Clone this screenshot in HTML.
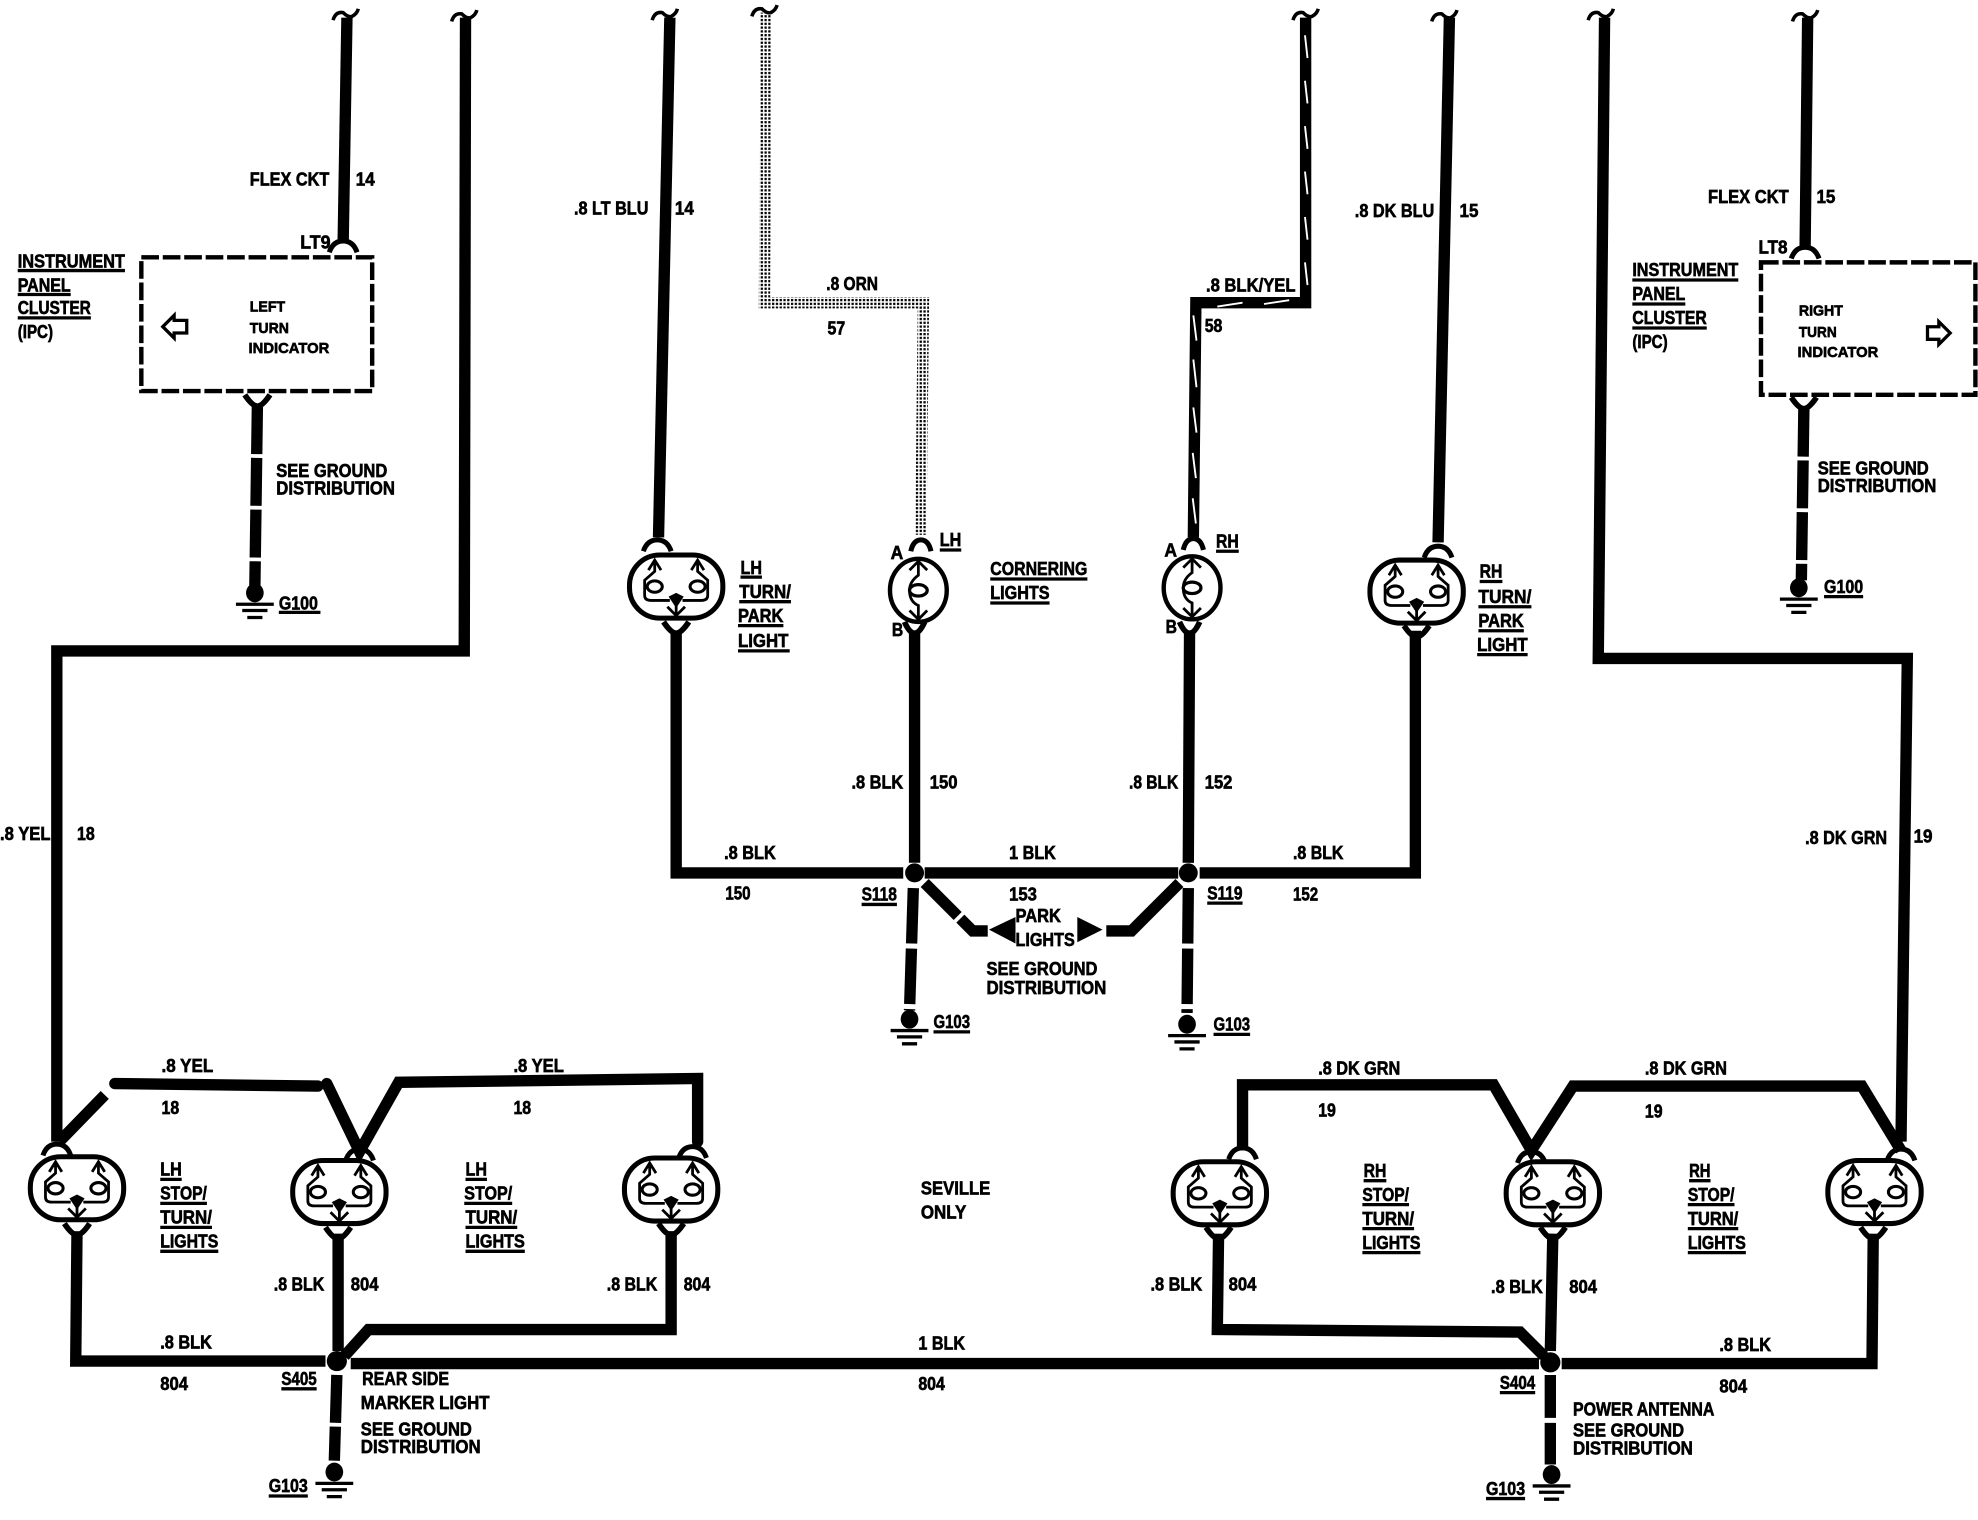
<!DOCTYPE html>
<html><head><meta charset="utf-8"><style>
html,body{margin:0;padding:0;background:#fff;width:1978px;height:1520px;overflow:hidden}
svg{display:block}
text{font-family:"Liberation Sans",sans-serif;font-weight:bold;font-size:14.5px;fill:#000;stroke:#000;stroke-width:.5}
.s text{font-size:12px}
.w{fill:none;stroke:#000;stroke-width:9;stroke-linejoin:miter}
.u{stroke:#000;stroke-width:2.6;fill:none}
</style></head><body>
<svg width="1978" height="1520" viewBox="0 0 1568 1205" xmlns="http://www.w3.org/2000/svg">
<defs>
<pattern id="gr" width="3" height="3" patternUnits="userSpaceOnUse"><rect width="3" height="3" fill="#fff"/><rect width="1.8" height="1.8" fill="#000"/></pattern>
<g id="L"><rect x="-37" y="-25" width="74" height="50" rx="24" ry="24" fill="#fff" stroke="#000" stroke-width="4"/>
<path d="M-17,-21V-12L-25,-5V7Q-25,11-20,11H-5M17,-21V-12L25,-5V7Q25,11 20,11H5M-22,-13L-17,-21L-12,-13M22,-13L17,-21L12,-13M-7,16L0,23L7,16M0,12V23" fill="none" stroke="#000" stroke-width="2.2"/>
<ellipse cx="-17" cy="0" rx="6" ry="4.500" fill="#fff" stroke="#000" stroke-width="2.4"/><ellipse cx="17" cy="0" rx="6" ry="4.500" fill="#fff" stroke="#000" stroke-width="2.4"/><path d="M-6,8L0,5L6,8L0,17Z"/></g>
<g id="C"><ellipse rx="22.500" ry="25" fill="#fff" stroke="#000" stroke-width="3.500"/>
<path d="M0,-23V-12Q-7,-7-7,0Q-7,9 0,12V23M-7,-16L0,-23L7,-16M-7,16L0,23L7,16" fill="none" stroke="#000" stroke-width="2.200"/><ellipse cx="0" cy="0" rx="7" ry="4.500" fill="#fff" stroke="#000" stroke-width="2.600"/></g>
<path id="T" d="M-11,6Q-8,-3 0,-3Q8,-3 11,6" fill="none" stroke="#000" stroke-width="4"/>
<path id="B" d="M-10,-6Q-4,3 0,3Q4,3 10,-6" fill="none" stroke="#000" stroke-width="4.500"/>
<path id="T2" d="M-8,6Q-6,-3 0,-3Q6,-3 8,6" fill="none" stroke="#000" stroke-width="4"/>
<path id="B2" d="M-8,-6Q-4,3 0,3Q4,3 8,-6" fill="none" stroke="#000" stroke-width="4.500"/>
<g id="G"><ellipse rx="7" ry="7.500"/><path d="M-15,9H15M-10,14H10M-6,19.500H6" stroke="#000" stroke-width="2.600" fill="none"/></g>
<path id="Q" d="M-11,4Q-9,-3-3,-2Q1,2 4,1Q8,-1 9,-5" fill="none" stroke="#000" stroke-width="2.800"/>
</defs>

<!-- top wires -->
<path class="w" d="M275,14L272,192"/>
<path class="w" d="M369,14L368,516H45V905"/>
<path class="w" d="M531,14L522,426"/>
<path d="M607,10L606,240H732L730,424" fill="none" stroke="url(#gr)" stroke-width="9"/>
<path class="w" d="M1035,14V240H948L946,426"/>
<path d="M1034.500,28L1036.500,46M1034.500,64L1036.500,82M1034.500,100L1036.500,118M1034.500,136L1036.500,154M1034.500,172L1036.500,190M1034.500,208L1036.500,226M965,243L985,240M1002,241L1022,238M946,250L948.500,270M946,285L948.500,307M946,323L948.500,343M945.500,359L948,379M945.500,395L948,415" fill="none" stroke="#fff" stroke-width="1.500"/>
<path class="w" d="M1149,14L1140,430"/>
<path class="w" d="M1272,14L1267,522H1512L1507,905"/>
<path class="w" d="M1433,14L1431,195"/>
<use href="#Q" x="275" y="12"/><use href="#Q" x="369" y="13"/><use href="#Q" x="528" y="12"/><use href="#Q" x="607" y="9"/><use href="#Q" x="1036" y="12"/><use href="#Q" x="1146" y="13"/><use href="#Q" x="1270" y="12"/><use href="#Q" x="1432" y="13"/>

<!-- IPC boxes -->
<rect x="112" y="204" width="183" height="106" fill="none" stroke="#000" stroke-width="3.500" stroke-dasharray="14 3"/>
<rect x="1396" y="208" width="170" height="105" fill="none" stroke="#000" stroke-width="3.500" stroke-dasharray="14 3"/>
<path d="M129,259L138,250V254H148V264H138V268Z" fill="none" stroke="#000" stroke-width="2.600"/>
<path d="M1546,264L1537,255V259H1528V269H1537V273Z" fill="none" stroke="#000" stroke-width="2.600"/>
<use href="#T" x="272" y="194"/>
<use href="#T" x="1431" y="199"/>
<use href="#B" x="204" y="319"/>
<use href="#B" x="1430" y="321"/>
<path class="w" stroke-dasharray="38 3" d="M204,322L202,465"/>
<path class="w" stroke-dasharray="38 3" d="M1430,324L1428,460"/>
<use href="#G" x="202" y="470"/>
<use href="#G" x="1426" y="466"/>

<!-- upper lamps -->
<use href="#L" x="536" y="465"/><use href="#L" x="1123" y="469"/>
<use href="#C" x="728" y="468"/><use href="#C" x="945" y="466"/>
<use href="#T" x="521" y="431"/><use href="#T2" x="730" y="431"/><use href="#T2" x="946" y="430"/><use href="#T" x="1140" y="436"/>
<use href="#B" x="536" y="499"/><use href="#B2" x="725" y="499"/><use href="#B2" x="943" y="499"/><use href="#B" x="1123" y="502"/>

<!-- middle bus -->
<path class="w" d="M536,500V692H716"/>
<path class="w" d="M725,500V684"/>
<path class="w" d="M943,500L942,684"/>
<path class="w" d="M733,692H934"/>
<path class="w" d="M951,692H1122V500"/>
<circle cx="725" cy="692" r="7.500"/><circle cx="942" cy="692" r="7.500"/>
<path class="w" stroke-dasharray="44 4" d="M724,704L721,801"/>
<path class="w" stroke-dasharray="44 4" d="M942,704L941,803"/>
<use href="#G" x="721" y="808"/><use href="#G" x="941" y="812"/>
<path class="w" stroke-dasharray="37 3" d="M733,700L771,738H783"/>
<path class="w" d="M935,700L897,738H877"/>
<path d="M784,737L805,727V748Z"/><path d="M874,737L854,727V747Z"/>

<!-- lower yellow/green -->
<path class="w" d="M47,905L83,868"/>
<path class="w" stroke-linecap="round" d="M91,859L252,861"/>
<path class="w" stroke-linecap="round" d="M259,859L285,913L316,858L553,855V905"/>
<path class="w" d="M985,912V860H1184L1214,912L1247,861H1476L1507,912"/>

<!-- lower lamps -->
<use href="#L" x="61" y="942"/><use href="#L" x="269" y="945"/><use href="#L" x="532" y="943"/>
<use href="#L" x="967" y="946"/><use href="#L" x="1231" y="946"/><use href="#L" x="1486" y="945"/>
<use href="#T" x="45" y="910"/><use href="#T" x="285" y="914"/><use href="#T" x="549" y="912"/>
<use href="#T" x="985" y="913"/><use href="#T" x="1214" y="916"/><use href="#T" x="1507" y="914"/>
<use href="#B" x="61" y="976"/><use href="#B" x="268" y="979"/><use href="#B" x="532" y="976"/><use href="#B" x="966" y="979"/><use href="#B" x="1231" y="979"/><use href="#B" x="1485" y="979"/>

<!-- lower bus -->
<path class="w" d="M61,976L60,1079H258"/>
<path class="w" d="M268,978V1071"/>
<path class="w" d="M273,1075L292,1054H532V976"/>
<path class="w" d="M278,1081H1220"/>
<path class="w" d="M966,978L965,1054L1205,1056L1224,1075"/>
<path class="w" d="M1231,978L1229,1071"/>
<path class="w" d="M1238,1081H1484L1485,978"/>
<circle cx="267" cy="1079" r="8"/><circle cx="1229" cy="1080" r="8"/>
<path class="w" stroke-dasharray="38 3" d="M267,1090L265,1158"/>
<path class="w" stroke-dasharray="34 4" d="M1229,1090V1161"/>
<use href="#G" x="265" y="1167"/><use href="#G" x="1230" y="1169"/>

<!-- text -->
<g>
<text x="198" y="147" textLength="63" lengthAdjust="spacingAndGlyphs">FLEX CKT</text><text x="282" y="147" textLength="15" lengthAdjust="spacingAndGlyphs">14</text>
<text x="238" y="197" textLength="24" lengthAdjust="spacingAndGlyphs">LT9</text>
<text x="14" y="212" textLength="85" lengthAdjust="spacingAndGlyphs">INSTRUMENT</text><text x="14" y="231" textLength="42" lengthAdjust="spacingAndGlyphs">PANEL</text><text x="14" y="249" textLength="58" lengthAdjust="spacingAndGlyphs">CLUSTER</text><text x="14" y="268" textLength="28" lengthAdjust="spacingAndGlyphs">(IPC)</text>
<g class="s"><text x="198" y="247" textLength="28" lengthAdjust="spacingAndGlyphs">LEFT</text><text x="198" y="264" textLength="31" lengthAdjust="spacingAndGlyphs">TURN</text><text x="197" y="280" textLength="64" lengthAdjust="spacingAndGlyphs">INDICATOR</text>
<text x="1426" y="250" textLength="35" lengthAdjust="spacingAndGlyphs">RIGHT</text><text x="1426" y="267" textLength="30" lengthAdjust="spacingAndGlyphs">TURN</text><text x="1425" y="283" textLength="64" lengthAdjust="spacingAndGlyphs">INDICATOR</text></g>
<text x="219" y="378" textLength="88" lengthAdjust="spacingAndGlyphs">SEE GROUND</text><text x="219" y="392" textLength="94" lengthAdjust="spacingAndGlyphs">DISTRIBUTION</text>
<text x="221" y="483" textLength="31" lengthAdjust="spacingAndGlyphs">G100</text>
<text x="455" y="170" textLength="59" lengthAdjust="spacingAndGlyphs">.8 LT BLU</text><text x="535" y="170" textLength="15" lengthAdjust="spacingAndGlyphs">14</text>
<text x="655" y="230" textLength="41" lengthAdjust="spacingAndGlyphs">.8 ORN</text><text x="656" y="265" textLength="14" lengthAdjust="spacingAndGlyphs">57</text>
<text x="956" y="231" textLength="71" lengthAdjust="spacingAndGlyphs">.8 BLK/YEL</text><text x="955" y="263" textLength="14" lengthAdjust="spacingAndGlyphs">58</text>
<text x="1074" y="172" textLength="63" lengthAdjust="spacingAndGlyphs">.8 DK BLU</text><text x="1157" y="172" textLength="15" lengthAdjust="spacingAndGlyphs">15</text>
<text x="1354" y="161" textLength="64" lengthAdjust="spacingAndGlyphs">FLEX CKT</text><text x="1440" y="161" textLength="15" lengthAdjust="spacingAndGlyphs">15</text><text x="1394" y="201" textLength="23" lengthAdjust="spacingAndGlyphs">LT8</text>
<text x="1294" y="219" textLength="84" lengthAdjust="spacingAndGlyphs">INSTRUMENT</text><text x="1294" y="238" textLength="42" lengthAdjust="spacingAndGlyphs">PANEL</text><text x="1294" y="257" textLength="59" lengthAdjust="spacingAndGlyphs">CLUSTER</text><text x="1294" y="276" textLength="28" lengthAdjust="spacingAndGlyphs">(IPC)</text>
<text x="1441" y="376" textLength="88" lengthAdjust="spacingAndGlyphs">SEE GROUND</text><text x="1441" y="390" textLength="94" lengthAdjust="spacingAndGlyphs">DISTRIBUTION</text>
<text x="1446" y="470" textLength="31" lengthAdjust="spacingAndGlyphs">G100</text>
<text x="587" y="455" textLength="17" lengthAdjust="spacingAndGlyphs">LH</text><text x="586" y="474" textLength="41" lengthAdjust="spacingAndGlyphs">TURN/</text><text x="585" y="493" textLength="36" lengthAdjust="spacingAndGlyphs">PARK</text><text x="585" y="513" textLength="40" lengthAdjust="spacingAndGlyphs">LIGHT</text>
<text x="706" y="443" textLength="10" lengthAdjust="spacingAndGlyphs">A</text><text x="707" y="504" textLength="9" lengthAdjust="spacingAndGlyphs">B</text><text x="745" y="433" textLength="17" lengthAdjust="spacingAndGlyphs">LH</text>
<text x="785" y="456" textLength="77" lengthAdjust="spacingAndGlyphs">CORNERING</text><text x="785" y="475" textLength="47" lengthAdjust="spacingAndGlyphs">LIGHTS</text>
<text x="923" y="441" textLength="10" lengthAdjust="spacingAndGlyphs">A</text><text x="924" y="502" textLength="9" lengthAdjust="spacingAndGlyphs">B</text><text x="964" y="434" textLength="18" lengthAdjust="spacingAndGlyphs">RH</text>
<text x="1173" y="458" textLength="18" lengthAdjust="spacingAndGlyphs">RH</text><text x="1172" y="478" textLength="42" lengthAdjust="spacingAndGlyphs">TURN/</text><text x="1172" y="497" textLength="36" lengthAdjust="spacingAndGlyphs">PARK</text><text x="1171" y="516" textLength="40" lengthAdjust="spacingAndGlyphs">LIGHT</text>
<text x="675" y="625" textLength="41" lengthAdjust="spacingAndGlyphs">.8 BLK</text><text x="737" y="625" textLength="22" lengthAdjust="spacingAndGlyphs">150</text>
<text x="895" y="625" textLength="39" lengthAdjust="spacingAndGlyphs">.8 BLK</text><text x="955" y="625" textLength="22" lengthAdjust="spacingAndGlyphs">152</text>
<text x="574" y="681" textLength="41" lengthAdjust="spacingAndGlyphs">.8 BLK</text><text x="575" y="713" textLength="20" lengthAdjust="spacingAndGlyphs">150</text><text x="683" y="714" textLength="28" lengthAdjust="spacingAndGlyphs">S118</text>
<text x="800" y="681" textLength="37" lengthAdjust="spacingAndGlyphs">1 BLK</text><text x="800" y="714" textLength="22" lengthAdjust="spacingAndGlyphs">153</text>
<text x="1025" y="681" textLength="40" lengthAdjust="spacingAndGlyphs">.8 BLK</text><text x="1025" y="714" textLength="20" lengthAdjust="spacingAndGlyphs">152</text><text x="957" y="713" textLength="28" lengthAdjust="spacingAndGlyphs">S119</text>
<text x="805" y="731" textLength="36" lengthAdjust="spacingAndGlyphs">PARK</text><text x="805" y="750" textLength="47" lengthAdjust="spacingAndGlyphs">LIGHTS</text>
<text x="782" y="773" textLength="88" lengthAdjust="spacingAndGlyphs">SEE GROUND</text><text x="782" y="788" textLength="95" lengthAdjust="spacingAndGlyphs">DISTRIBUTION</text>
<text x="740" y="815" textLength="29" lengthAdjust="spacingAndGlyphs">G103</text><text x="962" y="817" textLength="29" lengthAdjust="spacingAndGlyphs">G103</text>
<text x="0" y="666" textLength="40" lengthAdjust="spacingAndGlyphs">.8 YEL</text><text x="61" y="666" textLength="14" lengthAdjust="spacingAndGlyphs">18</text>
<text x="1431" y="669" textLength="65" lengthAdjust="spacingAndGlyphs">.8 DK GRN</text><text x="1517" y="668" textLength="15" lengthAdjust="spacingAndGlyphs">19</text>
<text x="128" y="850" textLength="41" lengthAdjust="spacingAndGlyphs">.8 YEL</text><text x="128" y="883" textLength="14" lengthAdjust="spacingAndGlyphs">18</text><text x="407" y="850" textLength="40" lengthAdjust="spacingAndGlyphs">.8 YEL</text><text x="407" y="883" textLength="14" lengthAdjust="spacingAndGlyphs">18</text>
<text x="1045" y="852" textLength="65" lengthAdjust="spacingAndGlyphs">.8 DK GRN</text><text x="1045" y="885" textLength="14" lengthAdjust="spacingAndGlyphs">19</text><text x="1304" y="852" textLength="65" lengthAdjust="spacingAndGlyphs">.8 DK GRN</text><text x="1304" y="886" textLength="14" lengthAdjust="spacingAndGlyphs">19</text>
<text x="127" y="932" textLength="17" lengthAdjust="spacingAndGlyphs">LH</text><text x="127" y="951" textLength="37" lengthAdjust="spacingAndGlyphs">STOP/</text><text x="127" y="970" textLength="41" lengthAdjust="spacingAndGlyphs">TURN/</text><text x="127" y="989" textLength="46" lengthAdjust="spacingAndGlyphs">LIGHTS</text>
<text x="369" y="932" textLength="17" lengthAdjust="spacingAndGlyphs">LH</text><text x="368" y="951" textLength="38" lengthAdjust="spacingAndGlyphs">STOP/</text><text x="369" y="970" textLength="41" lengthAdjust="spacingAndGlyphs">TURN/</text><text x="369" y="989" textLength="47" lengthAdjust="spacingAndGlyphs">LIGHTS</text>
<text x="730" y="947" textLength="55" lengthAdjust="spacingAndGlyphs">SEVILLE</text><text x="730" y="966" textLength="36" lengthAdjust="spacingAndGlyphs">ONLY</text>
<text x="1081" y="933" textLength="18" lengthAdjust="spacingAndGlyphs">RH</text><text x="1080" y="952" textLength="37" lengthAdjust="spacingAndGlyphs">STOP/</text><text x="1080" y="971" textLength="41" lengthAdjust="spacingAndGlyphs">TURN/</text><text x="1080" y="990" textLength="46" lengthAdjust="spacingAndGlyphs">LIGHTS</text>
<text x="1339" y="933" textLength="17" lengthAdjust="spacingAndGlyphs">RH</text><text x="1338" y="952" textLength="37" lengthAdjust="spacingAndGlyphs">STOP/</text><text x="1338" y="971" textLength="40" lengthAdjust="spacingAndGlyphs">TURN/</text><text x="1338" y="990" textLength="46" lengthAdjust="spacingAndGlyphs">LIGHTS</text>
<text x="217" y="1023" textLength="40" lengthAdjust="spacingAndGlyphs">.8 BLK</text><text x="278" y="1023" textLength="22" lengthAdjust="spacingAndGlyphs">804</text>
<text x="481" y="1023" textLength="40" lengthAdjust="spacingAndGlyphs">.8 BLK</text><text x="542" y="1023" textLength="21" lengthAdjust="spacingAndGlyphs">804</text>
<text x="912" y="1023" textLength="41" lengthAdjust="spacingAndGlyphs">.8 BLK</text><text x="974" y="1023" textLength="22" lengthAdjust="spacingAndGlyphs">804</text>
<text x="1182" y="1025" textLength="41" lengthAdjust="spacingAndGlyphs">.8 BLK</text><text x="1244" y="1025" textLength="22" lengthAdjust="spacingAndGlyphs">804</text>
<text x="127" y="1069" textLength="41" lengthAdjust="spacingAndGlyphs">.8 BLK</text><text x="127" y="1102" textLength="22" lengthAdjust="spacingAndGlyphs">804</text><text x="223" y="1098" textLength="28" lengthAdjust="spacingAndGlyphs">S405</text>
<text x="287" y="1098" textLength="69" lengthAdjust="spacingAndGlyphs">REAR SIDE</text><text x="286" y="1117" textLength="102" lengthAdjust="spacingAndGlyphs">MARKER LIGHT</text><text x="286" y="1138" textLength="88" lengthAdjust="spacingAndGlyphs">SEE GROUND</text><text x="286" y="1152" textLength="95" lengthAdjust="spacingAndGlyphs">DISTRIBUTION</text><text x="213" y="1183" textLength="31" lengthAdjust="spacingAndGlyphs">G103</text>
<text x="728" y="1070" textLength="37" lengthAdjust="spacingAndGlyphs">1 BLK</text><text x="728" y="1102" textLength="21" lengthAdjust="spacingAndGlyphs">804</text>
<text x="1189" y="1101" textLength="28" lengthAdjust="spacingAndGlyphs">S404</text><text x="1247" y="1122" textLength="112" lengthAdjust="spacingAndGlyphs">POWER ANTENNA</text><text x="1247" y="1139" textLength="88" lengthAdjust="spacingAndGlyphs">SEE GROUND</text><text x="1247" y="1153" textLength="95" lengthAdjust="spacingAndGlyphs">DISTRIBUTION</text><text x="1178" y="1185" textLength="31" lengthAdjust="spacingAndGlyphs">G103</text>
<text x="1363" y="1071" textLength="41" lengthAdjust="spacingAndGlyphs">.8 BLK</text><text x="1363" y="1104" textLength="22" lengthAdjust="spacingAndGlyphs">804</text>
</g>

<!-- underlines -->
<path class="u" d="M14,214.500H99M14,233.500H56M14,252H72M1294,222H1378M1294,241H1336M1294,260H1353M221,485.500H254M1446,473H1477
M587,457.500H604M586,477H627M585,496H621M585,516H626M745,436H762M785,459H862M785,478H832M964,437H982
M1173,461H1191M1172,481H1214M1172,500H1208M1171,519H1211M683,717H711M957,716H985M740,818H769M962,820H991
M127,935H144M127,954H164M127,973H168M127,992H173M369,935H386M368,954H406M369,973H410M369,992H416
M1081,936H1099M1080,955H1117M1080,974H1121M1080,993H1126M1339,936H1356M1338,955H1375M1338,974H1378M1338,993H1384
M223,1101H251M213,1186H244M1189,1104H1217M1178,1188H1209"/>
</svg>
</body></html>
